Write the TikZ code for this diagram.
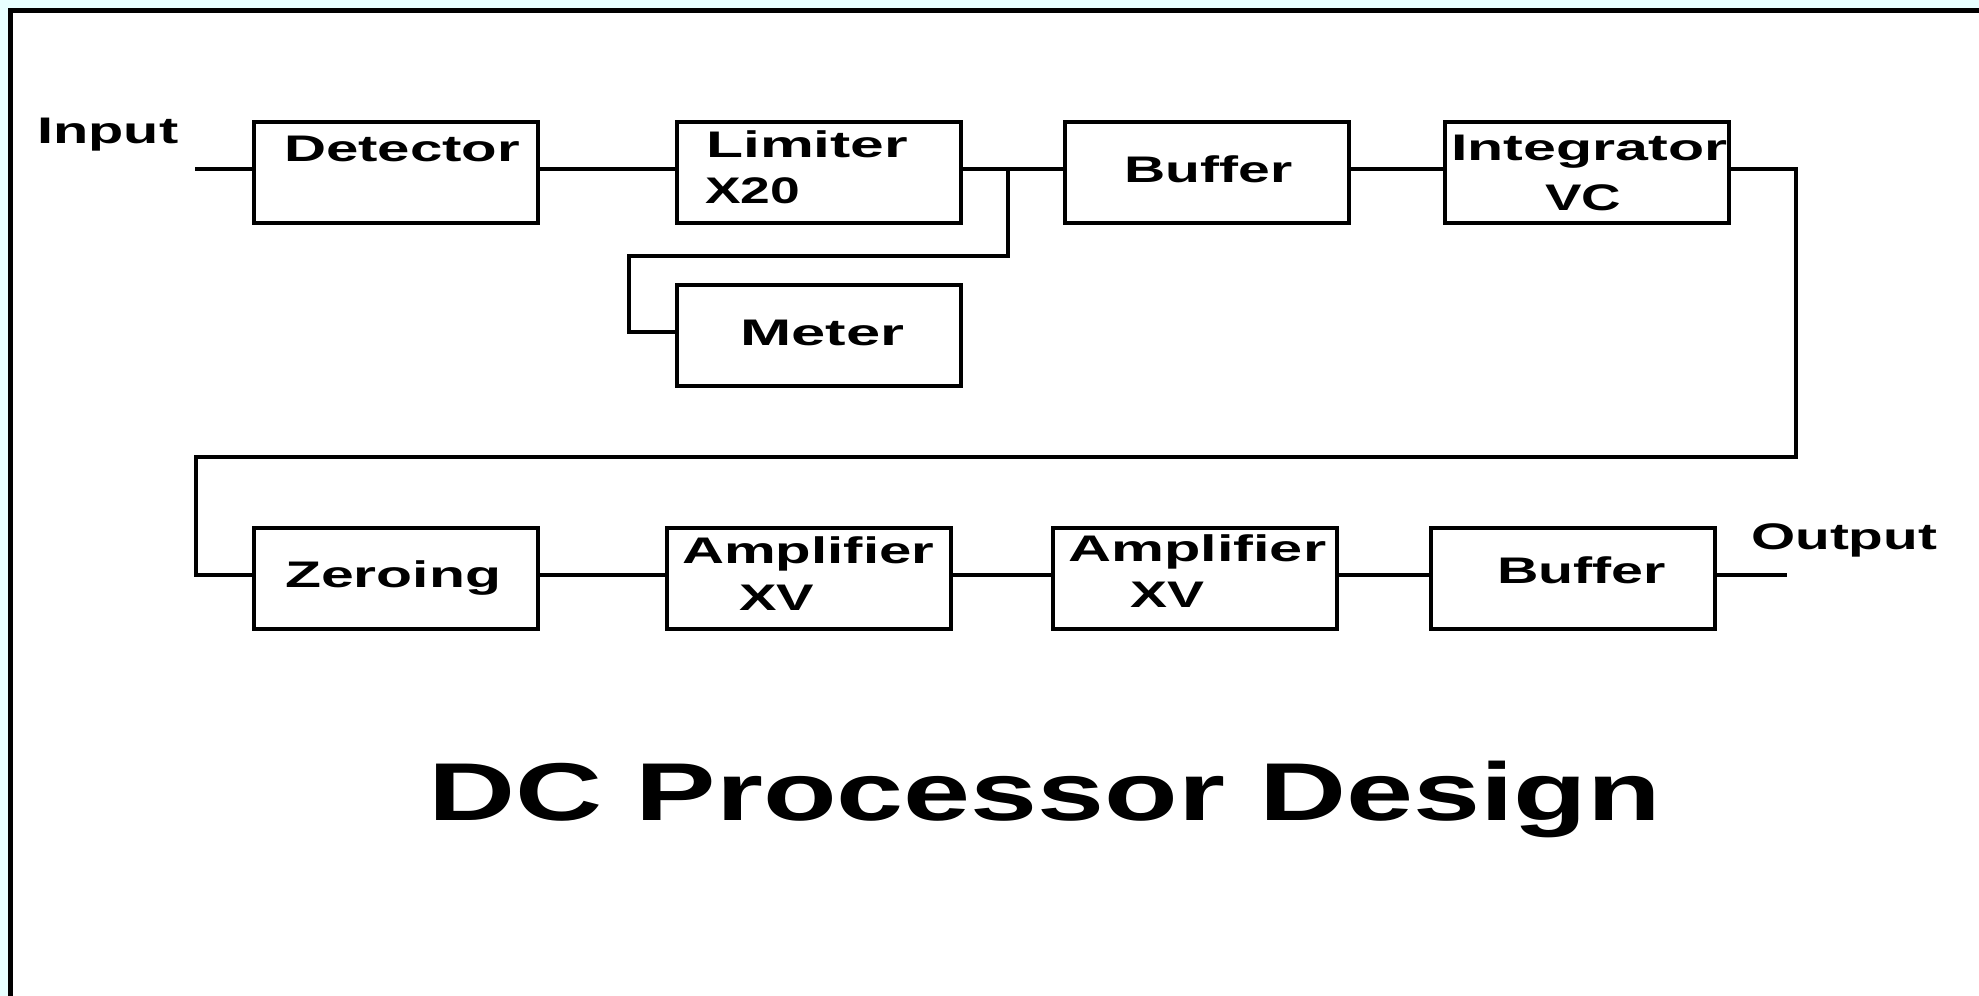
\documentclass[tikz,border=0pt]{standalone}
\usepackage{fontspec}
\usepackage{graphicx}
\newfontfamily\lbl{Liberation Sans}
\definecolor{cyanbg}{RGB}{232,255,255}
\newcommand{\sw}[2]{\resizebox{#1pt}{\height}{#2}}
\tikzset{
  blk/.style={draw=black, line width=4pt, rectangle, minimum width=284pt, minimum height=101pt, inner sep=0pt},
  wire/.style={draw=black, line width=3.2pt, line join=miter},
  txt/.style={anchor=base west, inner sep=0pt, font=\lbl\bfseries\fontsize{37}{40}\selectfont},
  ttl/.style={anchor=base west, inner sep=0pt, font=\lbl\bfseries\fontsize{82}{90}\selectfont},
}
\begin{document}
\begin{tikzpicture}[x=1pt, y=-1pt]
\useasboundingbox (0,0) rectangle (1979,996);
\fill[white] (0,0) rectangle (1979,996);
% outer frame
\fill[cyanbg] (0,0) rectangle (1979,8.5);
\fill[cyanbg] (0,0) rectangle (8.5,996);
\draw[line width=4.4pt] (10.5,996) -- (10.5,10.5) -- (1979,10.5);

% boxes
\node[blk] (det)   at (396,172.5) {};
\node[blk] (lim)   at (819,172.5) {};
\node[blk] (buf1)  at (1206.5,172.5) {};
\node[blk] (integ) at (1586.5,172.5) {};
\node[blk] (meter) at (819,335.5) {};
\node[blk] (zero)  at (396,578.5) {};
\node[blk] (amp1)  at (809,578.5) {};
\node[blk] (amp2)  at (1195,578.5) {};
\node[blk] (buf2)  at (1573,578.5) {};

% labels
\node[txt] (tin)   at (37,143)    {\sw{141}{Input}};
\node[txt] (tdet)  at (284,161)   {\sw{236}{Detector}};
\node[txt] (tlim)  at (706,157)   {\sw{202}{Limiter}};
\node[txt] (tx20)  at (705,203)   {\sw{95}{X20}};
\node[txt] (tbuf1) at (1124,182)  {\sw{168}{Buffer}};
\node[txt] (tint)  at (1451,160)  {\sw{276}{Integrator}};
\node[txt] (tvc)   at (1545,210)  {\sw{76}{VC}};
\node[txt] (tmet)  at (740,345)   {\sw{164}{Meter}};
\node[txt] (tzer)  at (285,587)   {\sw{216}{Zeroing}};
\node[txt] (tamp1) at (682,563)   {\sw{252}{Amplifier}};
\node[txt] (txv1)  at (739,610)   {\sw{75}{XV}};
\node[txt] (tamp2) at (1068,561)  {\sw{258}{Amplifier}};
\node[txt] (txv2)  at (1130,607)  {\sw{74}{XV}};
\node[txt] (tbuf2) at (1497,583.5){\sw{169}{Buffer}};
\node[txt] (tout)  at (1751,549)  {\sw{186}{Output}};
\node[ttl] (title) at (428,820)   {\sw{1233}{DC Processor Design}};

% connector coordinates
\coordinate (in)  at (195,169);
\coordinate (out) at (1787,575);
\coordinate (jn)  at (1008,169);
\coordinate (brB) at (629,256);
\coordinate (fbR) at (1796,457);
\coordinate (fbL) at (196,457);

% connectors
\draw[wire] (in) -- ([yshift=3.5pt]det.west);
\draw[wire] ([yshift=3.5pt]det.east) -- ([yshift=3.5pt]lim.west);
\draw[wire] ([yshift=3.5pt]lim.east) -- ([yshift=3.5pt]buf1.west);
\draw[wire] ([yshift=3.5pt]buf1.east) -- ([yshift=3.5pt]integ.west);
\draw[wire] (jn) |- (brB) |- ([yshift=3.5pt]meter.west);
\draw[wire] ([yshift=3.5pt]integ.east) -| (fbR) -- (fbL) |- ([yshift=3.5pt]zero.west);
\draw[wire] ([yshift=3.5pt]zero.east) -- ([yshift=3.5pt]amp1.west);
\draw[wire] ([yshift=3.5pt]amp1.east) -- ([yshift=3.5pt]amp2.west);
\draw[wire] ([yshift=3.5pt]amp2.east) -- ([yshift=3.5pt]buf2.west);
\draw[wire] ([yshift=3.5pt]buf2.east) -- (out);
\end{tikzpicture}
\end{document}
